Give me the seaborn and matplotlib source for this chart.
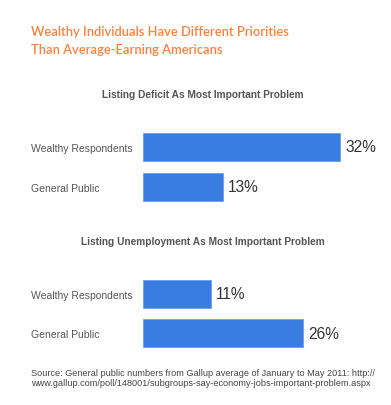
import numpy as np
import pandas as pd
import matplotlib
matplotlib.use("Agg")
import matplotlib.pyplot as plt
import seaborn as sns

# data
groups = ["Wealthy Respondents", "General Public"]
deficit = [32, 13]
unemployment = [11, 26]

title = "Wealthy Individuals Have Different Priorities\nThan Average-Earning Americans"
sub1 = "Listing Deficit As Most Important Problem"
sub2 = "Listing Unemployment As Most Important Problem"
source = ("Source: General public numbers from Gallup average of January to May 2011: http://\n"
          "www.gallup.com/poll/148001/subgroups-say-economy-jobs-important-problem.aspx")

sns.set_style("white")
plt.rcParams["font.family"] = ["Liberation Sans", "DejaVu Sans"]

bar_col = "#3a7de2"
W, H = 391, 406
fig = plt.figure(figsize=(W / 100, H / 100), dpi=100)

# axes boxes in pixels: left, top, right, bottom
boxes = [(143, 128, 380, 208), (143, 275, 380, 354)]
panels = [(sub1, deficit, 95), (sub2, unemployment, 242)]

for (l, t, r, b), (sub, vals, sub_y) in zip(boxes, panels):
    ax = fig.add_axes([l / W, 1 - b / H, (r - l) / W, (b - t) / H])
    df = pd.DataFrame({"group": groups, "pct": vals})
    sns.barplot(data=df, x="pct", y="group", orient="h", color=bar_col,
                width=0.7, saturation=1, edgecolor="#6b9ff0", linewidth=0.6, ax=ax)
    ax.set_xlim(0, (r - l) / 6.16)
    ax.set_ylim(1.5, -0.5)
    ax.set_xlabel("")
    ax.set_ylabel("")
    ax.set_xticks([])
    sns.despine(ax=ax, left=True, bottom=True)
    ax.tick_params(axis="y", length=0, pad=(143 - 31) * 0.72, labelsize=7.5,
                   labelcolor="#555555")
    for lab in ax.get_yticklabels():
        lab.set_horizontalalignment("left")
    for i, v in enumerate(vals):
        ax.text(v + 0.8, i, f"{v}%", va="center", ha="left", fontsize=11.2,
                color="#333333")
    fig.text(203 / W, 1 - sub_y / H, sub, ha="center", va="center",
             fontsize=7.3, fontweight="bold", color="#555555")

fig.text(31 / W, 1 - 41 / H, title, ha="left", va="center", fontsize=9.3,
         color="#f7823e", family=["Lato", "DejaVu Sans"], fontweight="semibold",
         linespacing=1.55)
fig.text(31 / W, 1 - 378.5 / H, source, ha="left", va="center", fontsize=6.6,
         color="#444444", linespacing=1.25)

fig.savefig("out.png", dpi=100)
